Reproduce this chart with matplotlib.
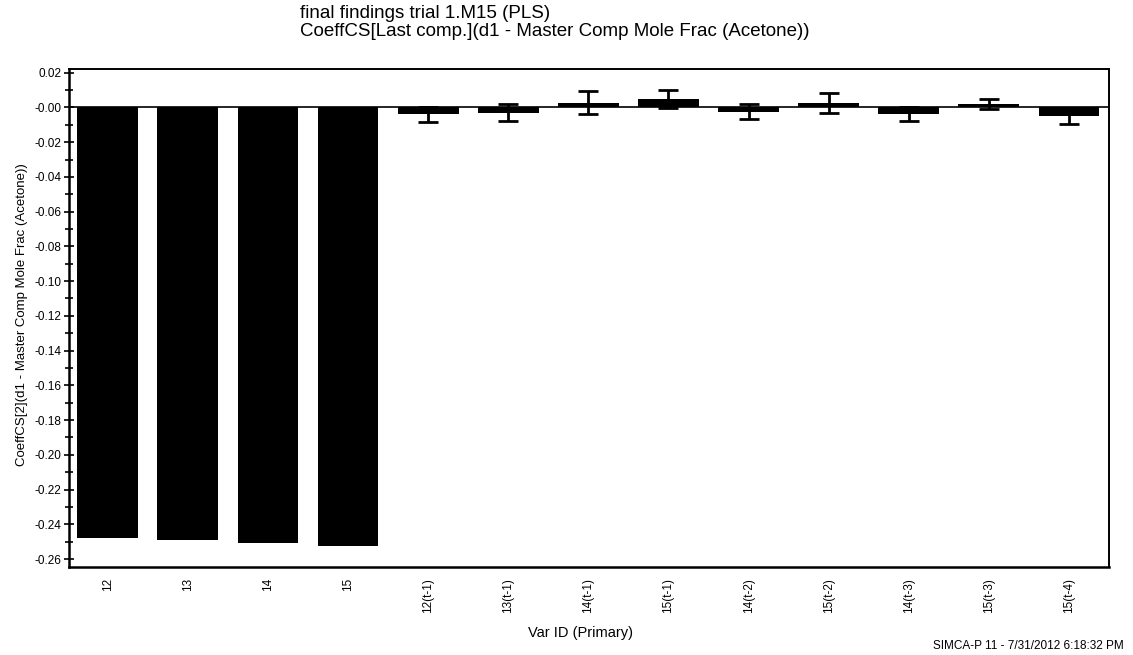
import matplotlib
matplotlib.use("Agg")
import matplotlib.pyplot as plt
from matplotlib.ticker import MultipleLocator, FixedLocator, FixedFormatter
import numpy as np

plt.rcParams['font.family'] = ['Liberation Sans', 'DejaVu Sans']

# Variable IDs (primary) and their scaled-centred PLS coefficients
var_ids = ["12", "13", "14", "15", "12(t-1)", "13(t-1)", "14(t-1)", "15(t-1)",
           "14(t-2)", "15(t-2)", "14(t-3)", "15(t-3)", "15(t-4)"]
coeffs = [-0.2477, -0.2489, -0.2506, -0.2527, -0.0040, -0.0030, 0.0028, 0.0047,
          -0.0025, 0.0024, -0.0040, 0.0020, -0.0050]
conf_int = [0.0, 0.0, 0.0, 0.0, 0.0045, 0.0048, 0.0066, 0.0052,
            0.0044, 0.0056, 0.0040, 0.0028, 0.0048]

y_ticks = [0.02, 0.00, -0.02, -0.04, -0.06, -0.08, -0.10, -0.12, -0.14,
           -0.16, -0.18, -0.20, -0.22, -0.24, -0.26]
y_tick_labels = ["0.02", "-0.00", "-0.02", "-0.04", "-0.06", "-0.08", "-0.10",
                 "-0.12", "-0.14", "-0.16", "-0.18", "-0.20", "-0.22", "-0.24", "-0.26"]

W, H = 1133, 655
fig = plt.figure(figsize=(W / 100, H / 100), dpi=100)
ax = fig.add_axes([69.3 / W, 1 - 566.7 / H, (1109 - 69.3) / W, (566.7 - 69) / H])

x = np.arange(len(var_ids))
ax.bar(x, coeffs, width=0.76, color="black", zorder=2)
mask = np.array(conf_int) > 0
ax.errorbar(x[mask], np.array(coeffs)[mask], yerr=np.array(conf_int)[mask],
            fmt="none", ecolor="black", elinewidth=2, capsize=7, capthick=2, zorder=3)
ax.axhline(0, color="black", linewidth=1.2, zorder=1)

ax.set_xlim(-0.48, 12.5)
ax.set_ylim(-0.2644, 0.0221)

ax.yaxis.set_major_locator(FixedLocator(y_ticks))
ax.yaxis.set_major_formatter(FixedFormatter(y_tick_labels))
ax.yaxis.set_minor_locator(MultipleLocator(0.01))
ax.tick_params(axis="y", which="major", direction="inout", length=7, width=1.2,
               labelsize=8.5, pad=2)
ax.tick_params(axis="y", which="minor", direction="inout", length=6, width=1.2)

ax.set_xticks(x)
ax.set_xticklabels(var_ids, rotation=90, fontsize=8.5)
ax.tick_params(axis="x", length=0, pad=8)

for side in ("left", "bottom"):
    ax.spines[side].set_linewidth(1.8)
for side in ("top", "right"):
    ax.spines[side].set_linewidth(1.4)

# axis titles placed in figure pixels
fig.text(22 / W, 1 - 315 / H, "CoeffCS[2](d1 - Master Comp Mole Frac (Acetone))",
         fontsize=9.5, rotation=90, ha="center", va="center")
fig.text(581 / W, 1 - 633 / H, "Var ID (Primary)",
         fontsize=10.5, ha="center", va="center")

fig.text(300 / W, 1 - 13 / H, "final findings trial 1.M15 (PLS)",
         fontsize=13.5, ha="left", va="center")
fig.text(300 / W, 1 - 31 / H, "CoeffCS[Last comp.](d1 - Master Comp Mole Frac (Acetone))",
         fontsize=13.5, ha="left", va="center")
fig.text(1124 / W, 1 - 646 / H, "SIMCA-P 11 - 7/31/2012 6:18:32 PM",
         fontsize=8.5, ha="right", va="center")

fig.savefig("out.png", dpi=100)
